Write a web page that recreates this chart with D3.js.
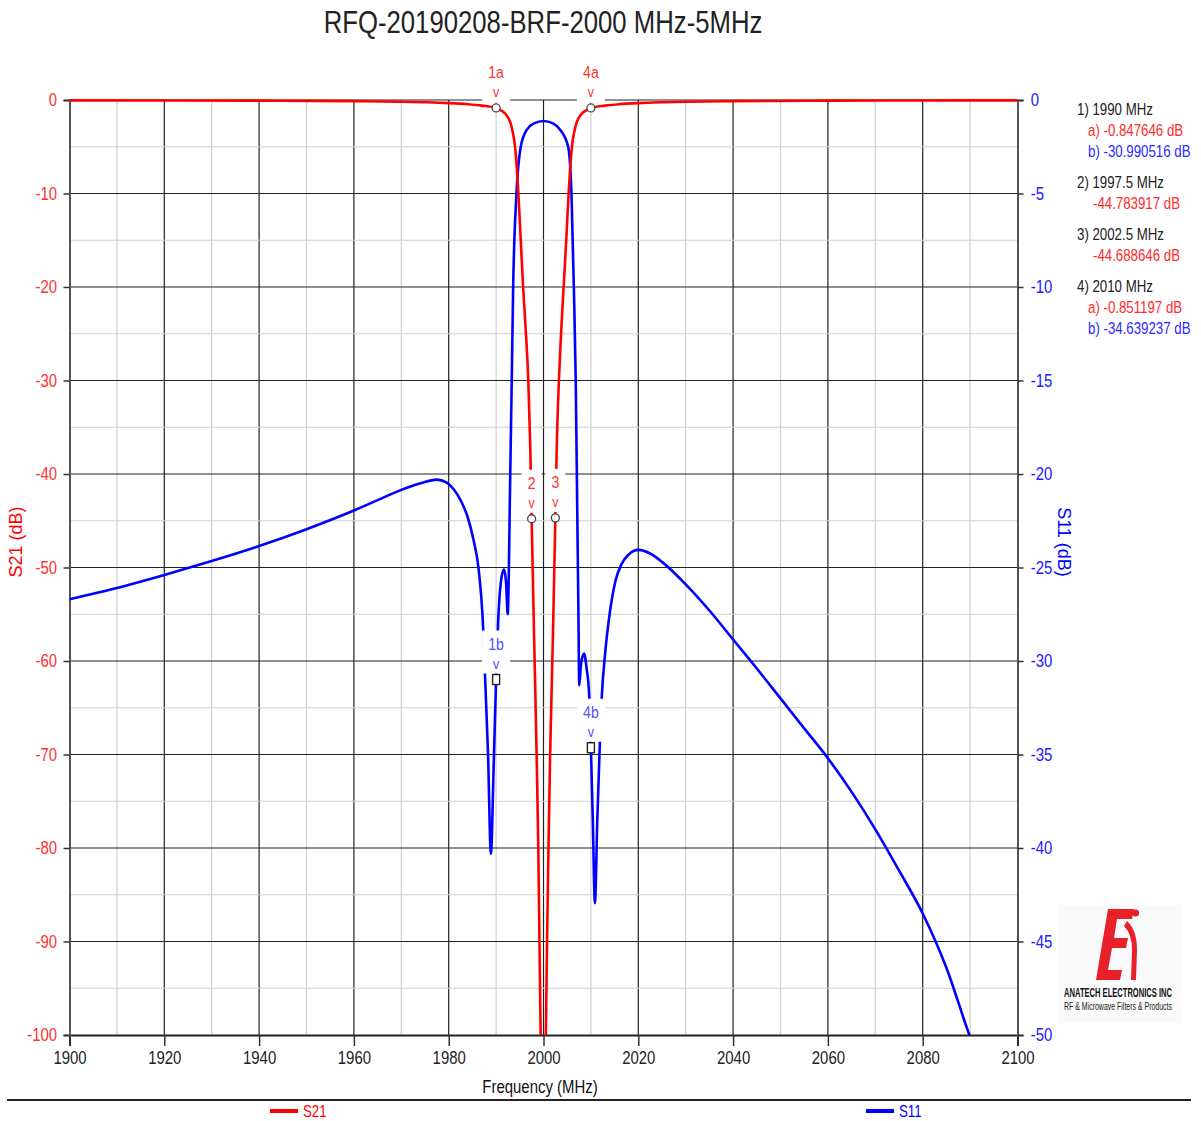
<!DOCTYPE html>
<html>
<head>
<meta charset="utf-8">
<script src="https://cdnjs.cloudflare.com/ajax/libs/d3/7.8.5/d3.min.js"></script>
<style>
  body { margin: 0; background: #fff; }
  text { font-family: "Liberation Sans", Arial, sans-serif; }
</style>
</head>
<body>
<div id="chart"></div>
<script>
// S21 trace (left axis, dB)
const s21Freq = [1900, 1920, 1940, 1960, 1970, 1975, 1980, 1984, 1987, 1990, 1991, 1992, 1993, 1993.5,
  1994, 1994.4, 1994.7, 1995.2, 1995.7, 1996.3, 1996.8, 1997.2, 1997.5, 1998, 1998.55, 1998.9, 1999.15,
  1999.4, 1999.7, 2000, 2000.3, 2000.5, 2000.75, 2001.05, 2001.4, 2002, 2002.5, 2002.8, 2003.25, 2003.7,
  2004.25, 2004.8, 2005.3, 2005.6, 2006, 2006.5, 2007, 2008, 2009, 2010, 2013, 2016, 2020, 2025, 2030,
  2040, 2060, 2080, 2100];
const s21Db = [-0.04, -0.05, -0.07, -0.12, -0.18, -0.24, -0.33, -0.45, -0.6, -0.85, -1.1, -1.5, -2.4, -3.4,
  -5.0, -7.5, -10, -15, -20, -25, -30, -37, -44.8, -57, -70, -80, -90,
  -100, -108, -112, -108, -100, -90, -80, -70, -57, -44.7, -37, -30, -25,
  -20, -15, -10, -7.5, -5.0, -3.4, -2.4, -1.5, -1.1, -0.85, -0.6, -0.45, -0.33, -0.24, -0.18,
  -0.12, -0.07, -0.05, -0.04];

// S11 trace (right axis, dB)
const s11Freq = [1900, 1910, 1920, 1930, 1940, 1950, 1960, 1965, 1970, 1974, 1977.5, 1979.5, 1981, 1982.5,
  1984, 1985.3, 1986.25, 1987.3, 1987.65, 1988.3, 1988.9, 1989.5, 1990, 1990.45, 1991, 1991.65, 1992.1, 1992.45,
  1992.7, 1992.9, 1993.3, 1993.6, 1994.3, 1995.2, 1996.45, 1998, 2000, 2002, 2003.55, 2005.2, 2005.9,
  2006.4, 2006.8, 2007.1, 2007.35, 2007.55, 2007.9, 2008.55, 2009.1, 2009.65, 2010, 2010.4, 2010.85,
  2011.35, 2011.9, 2012.3, 2013, 2014, 2015.2, 2016.5, 2018, 2020, 2022.5, 2025, 2030, 2035, 2040, 2045,
  2050, 2055, 2060, 2065, 2070, 2075, 2080, 2085, 2090, 2093];
const s11Db = [-26.7, -26.1, -25.4, -24.65, -23.85, -22.95, -21.95, -21.4, -20.85, -20.5, -20.3, -20.45, -20.8, -21.4,
  -22.3, -23.6, -24.95, -28.4, -30.7, -35, -40.3, -35.5, -30.99, -27.8, -25.8, -25.1, -25.8, -27.5,
  -25, -21.4, -15, -10, -5, -2.5, -1.6, -1.25, -1.12, -1.25, -1.6, -2.5, -5,
  -10, -15, -21.5, -27, -31.3, -30.2, -29.6, -30.4, -31.9, -34.64, -38.5, -42.95,
  -38.5, -34.3, -31.9, -29.6, -27.4, -25.7, -24.8, -24.3, -24.06, -24.25, -24.7, -25.9, -27.3, -28.85, -30.4,
  -32.0, -33.6, -35.2, -37.0, -39.0, -41.2, -43.5, -46.4, -50.1, -52];

const xTicks = [1900, 1920, 1940, 1960, 1980, 2000, 2020, 2040, 2060, 2080, 2100];
const leftTicks = [0, -10, -20, -30, -40, -50, -60, -70, -80, -90, -100];
const rightTicks = [0, -5, -10, -15, -20, -25, -30, -35, -40, -45, -50];

// markers: name, freq, value, trace
const markers = [
  { name: '1a', f: 1990, v: -0.847646, trace: 's21' },
  { name: '4a', f: 2010, v: -0.851197, trace: 's21' },
  { name: '2', f: 1997.5, v: -44.783917, trace: 's21' },
  { name: '3', f: 2002.5, v: -44.688646, trace: 's21' },
  { name: '1b', f: 1990, v: -30.990516, trace: 's11' },
  { name: '4b', f: 2010, v: -34.639237, trace: 's11' }
];

const readout = [
  { t: '1) 1990 MHz', c: '#222', dx: 0 },
  { t: 'a) -0.847646 dB', c: '#ff2a2a', dx: 11 },
  { t: 'b) -30.990516 dB', c: '#2a2aff', dx: 11 },
  { t: '2) 1997.5 MHz', c: '#222', dx: 0, gap: true },
  { t: '-44.783917 dB', c: '#ff2a2a', dx: 16 },
  { t: '3) 2002.5 MHz', c: '#222', dx: 0, gap: true },
  { t: '-44.688646 dB', c: '#ff2a2a', dx: 16 },
  { t: '4) 2010 MHz', c: '#222', dx: 0, gap: true },
  { t: 'a) -0.851197 dB', c: '#ff2a2a', dx: 11 },
  { t: 'b) -34.639237 dB', c: '#2a2aff', dx: 11 }
];

const width = 1201;
const height = 1121;
const red = '#ff0000';
const blue = '#0000ff';
const NARROW = 0.83; // no Arial Narrow here, squeeze the glyphs instead

const svg = d3.select('#chart').append('svg')
  .attr('width', width)
  .attr('height', height);

function ntext(parent, tx, ty, str, size, color, anchor, sx) {
  return parent.append('text')
    .attr('transform', `translate(${tx},${ty}) scale(${sx || NARROW},1)`)
    .attr('text-anchor', anchor || 'start')
    .attr('font-size', size)
    .attr('fill', color)
    .text(str);
}

const x = d3.scaleLinear().domain([1900, 2100]).range([69.5, 1017.5]);
const yL = d3.scaleLinear().domain([-100, 0]).range([1035, 100]);
const yR = d3.scaleLinear().domain([-50, 0]).range([1035, 100]);

// title
ntext(svg, 543, 33, 'RFQ-20190208-BRF-2000 MHz-5MHz', 31, '#222', 'middle');

// grid
const grid = svg.append('g');
d3.range(1910, 2100, 10).forEach(f => {
  const major = f % 20 === 0;
  grid.append('line')
    .attr('x1', x(f)).attr('x2', x(f))
    .attr('y1', yL(0)).attr('y2', yL(-100))
    .attr('stroke', major ? '#222' : '#cfcfcf')
    .attr('stroke-width', 1.2);
});
d3.range(0, -100, -5).forEach(v => {
  const major = v % 10 === 0;
  grid.append('line')
    .attr('x1', x(1900)).attr('x2', x(2100))
    .attr('y1', yL(v)).attr('y2', yL(v))
    .attr('stroke', major ? '#222' : '#cfcfcf')
    .attr('stroke-width', 1.2);
});

// axes
const plain = d => String(d);
const xAxis = svg.append('g')
  .attr('transform', `translate(0,${yL(-100)})`)
  .call(d3.axisBottom(x).tickValues(xTicks).tickSize(11).tickPadding(5).tickFormat(plain));
xAxis.selectAll('text').attr('font-size', 18).attr('fill', '#222')
  .style('font-family', '"Liberation Sans", Arial, sans-serif');

const leftAxis = svg.append('g')
  .attr('transform', `translate(${x(1900)},0)`)
  .call(d3.axisLeft(yL).tickValues(leftTicks).tickSize(6).tickPadding(9).tickFormat(plain));
leftAxis.selectAll('text').attr('font-size', 18).attr('fill', '#ff3030')
  .style('font-family', '"Liberation Sans", Arial, sans-serif');

const rightAxis = svg.append('g')
  .attr('transform', `translate(${x(2100)},0)`)
  .call(d3.axisRight(yR).tickValues(rightTicks).tickSize(6).tickPadding(10).tickFormat(plain));
rightAxis.selectAll('text').attr('font-size', 18).attr('fill', '#2020ff')
  .style('font-family', '"Liberation Sans", Arial, sans-serif');

[xAxis, leftAxis, rightAxis].forEach(a => {
  a.selectAll('.tick text').attr('transform', `scale(${NARROW},1)`);
  a.select('.domain').attr('stroke', '#555').attr('stroke-width', 2);
  a.selectAll('.tick line').attr('stroke', '#333').attr('stroke-width', 1.5);
});
xAxis.select('.domain').attr('stroke', '#222');

// axis titles
svg.append('text')
  .attr('transform', 'translate(22,542) rotate(-90)')
  .attr('text-anchor', 'middle')
  .attr('font-size', 18)
  .attr('fill', red)
  .text('S21 (dB)');

svg.append('text')
  .attr('transform', 'translate(1058,542) rotate(90)')
  .attr('text-anchor', 'middle')
  .attr('font-size', 18)
  .attr('fill', blue)
  .text('S11 (dB)');

ntext(svg, 540, 1093, 'Frequency (MHz)', 18, '#111', 'middle');

// traces
svg.append('clipPath').attr('id', 'plot-clip')
  .append('rect')
  .attr('x', x(1900)).attr('y', yL(0) - 3)
  .attr('width', x(2100) - x(1900)).attr('height', yL(-100) - yL(0) + 3);

const plot = svg.append('g').attr('clip-path', 'url(#plot-clip)');

const lineL = d3.line().x(d => x(d[0])).y(d => yL(d[1])).curve(d3.curveMonotoneX);
const lineR = d3.line().x(d => x(d[0])).y(d => yR(d[1])).curve(d3.curveMonotoneX);

plot.append('path')
  .datum(d3.zip(s11Freq, s11Db))
  .attr('d', lineR)
  .attr('fill', 'none')
  .attr('stroke', blue)
  .attr('stroke-width', 2.6);

plot.append('path')
  .datum(d3.zip(s21Freq, s21Db))
  .attr('d', lineL)
  .attr('fill', 'none')
  .attr('stroke', red)
  .attr('stroke-width', 2.6);

// markers
const mk = svg.append('g');
markers.forEach(m => {
  const mx = x(m.f);
  const my = m.trace === 's21' ? yL(m.v) : yR(m.v);
  const col = m.trace === 's21' ? '#ff3030' : '#5050ff';
  const bw = m.name.length > 1 ? 28 : 20;
  mk.append('rect')
    .attr('x', mx - bw / 2).attr('y', my - 49)
    .attr('width', bw).attr('height', 43)
    .attr('fill', '#fff');
  ntext(mk, mx, my - 30, m.name, 17, col, 'middle');
  ntext(mk, mx, my - 11, 'v', 15, col, 'middle');
  if (m.trace === 's21') {
    mk.append('circle')
      .attr('cx', mx).attr('cy', my).attr('r', 4)
      .attr('fill', '#fff').attr('stroke', '#444').attr('stroke-width', 1.3);
  } else {
    mk.append('rect')
      .attr('x', mx - 3.5).attr('y', my - 5).attr('width', 7).attr('height', 10)
      .attr('fill', '#fff').attr('stroke', '#222').attr('stroke-width', 1.4);
  }
});

// marker readout
let ry = 115;
readout.forEach((r, i) => {
  if (i > 0) ry += r.gap ? 31 : 21;
  ntext(svg, 1077 + r.dx, ry, r.t, 16, r.c);
});

// logo
const logo = svg.append('g');
logo.append('rect')
  .attr('x', 1058).attr('y', 905).attr('width', 123).attr('height', 118)
  .attr('fill', '#fafafa');
logo.append('path')
  .attr('d', 'M1108,909 L1134,909 L1132,919 L1117,919 L1114,938 L1128,938 L1126,948 L1112,948 L1108,970 L1122,970 L1120,980 L1096,980 Z')
  .attr('fill', '#e8202a');
logo.append('path')
  .attr('d', 'M1127,921 Q1137,930 1137,950 L1136,980 L1131,980 L1132,950 Q1132,934 1124,926 Z')
  .attr('fill', '#e8202a');
logo.append('circle')
  .attr('cx', 1135.5).attr('cy', 913).attr('r', 3.6)
  .attr('fill', '#e8202a');
const logo1 = ntext(logo, 1118, 997, 'ANATECH ELECTRONICS INC', 12, '#111', 'middle', 1)
  .attr('font-weight', 'bold');
const logo2 = ntext(logo, 1118, 1010, 'RF & Microwave Filters & Products', 10, '#222', 'middle', 1);
[[logo1, 997, 108], [logo2, 1010, 108]].forEach(([t, ty, w]) => {
  const len = t.node().getComputedTextLength();
  t.attr('transform', `translate(1118,${ty}) scale(${w / len},1)`);
});

// legend
svg.append('line')
  .attr('x1', 7).attr('x2', 1191)
  .attr('y1', 1100).attr('y2', 1100)
  .attr('stroke', '#222').attr('stroke-width', 2);

const legend = [
  { name: 'S21', color: red, x: 270 },
  { name: 'S11', color: blue, x: 866 }
];
legend.forEach(l => {
  svg.append('line')
    .attr('x1', l.x).attr('x2', l.x + 28)
    .attr('y1', 1111).attr('y2', 1111)
    .attr('stroke', l.color).attr('stroke-width', 4);
  ntext(svg, l.x + 33, 1117, l.name, 16, l.color);
});
</script>
</body>
</html>
